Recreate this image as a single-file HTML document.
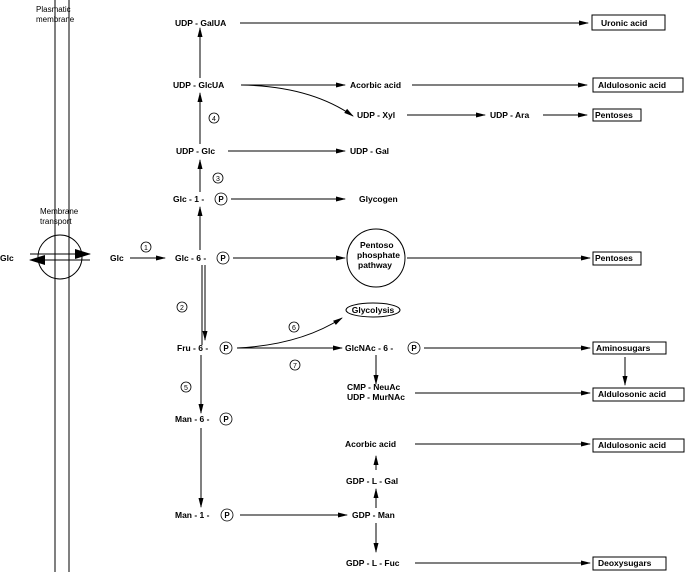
<!DOCTYPE html>
<html><head><style>body{margin:0;background:#fff}svg{display:block}text{font-family:"Liberation Sans",sans-serif;font-size:8.5px;font-weight:bold;fill:#000}.n{font-weight:normal}</style></head><body>
<svg width="685" height="572" viewBox="0 0 685 572">
<defs><marker id="a" markerWidth="10" markerHeight="6" refX="9" refY="3" orient="auto" markerUnits="userSpaceOnUse"><path d="M0,0.5 L10,3 L0,5.5 z" fill="#000"/></marker>
<marker id="b" markerWidth="16" markerHeight="10" refX="15" refY="5" orient="auto" markerUnits="userSpaceOnUse"><path d="M0,0 L16,5 L0,10 z" fill="#000"/></marker></defs>
<g stroke="#000" stroke-width="1" fill="none">
<line x1="55" y1="0" x2="55" y2="572"/><line x1="69" y1="0" x2="69" y2="572"/>
<circle cx="60" cy="257" r="22"/>
<line x1="30" y1="254" x2="90" y2="254" marker-end="url(#b)"/>
<line x1="90" y1="260" x2="30" y2="260" marker-end="url(#b)"/>
<line x1="130" y1="258" x2="165" y2="258" marker-end="url(#a)"/>
<line x1="200" y1="250" x2="200" y2="207" marker-end="url(#a)"/>
<line x1="200" y1="192" x2="200" y2="160" marker-end="url(#a)"/>
<line x1="200" y1="144" x2="200" y2="93" marker-end="url(#a)"/>
<line x1="200" y1="78" x2="200" y2="28" marker-end="url(#a)"/>
<line x1="240" y1="23" x2="588" y2="23" marker-end="url(#a)"/>
<line x1="241" y1="85" x2="345" y2="85" marker-end="url(#a)"/>
<line x1="412" y1="85" x2="587" y2="85" marker-end="url(#a)"/>
<path d="M241,85 Q310,86 353,116" marker-end="url(#a)"/>
<line x1="407" y1="115" x2="485" y2="115" marker-end="url(#a)"/>
<line x1="543" y1="115" x2="587" y2="115" marker-end="url(#a)"/>
<line x1="228" y1="151" x2="345" y2="151" marker-end="url(#a)"/>
<line x1="231" y1="199" x2="345" y2="199" marker-end="url(#a)"/>
<line x1="233" y1="258" x2="345" y2="258" marker-end="url(#a)"/>
<circle cx="376" cy="258" r="29"/>
<line x1="407" y1="258" x2="590" y2="258" marker-end="url(#a)"/>
<line x1="202" y1="265" x2="202" y2="345"/><line x1="205" y1="265" x2="205" y2="340" marker-end="url(#a)"/>
<ellipse cx="373" cy="310" rx="27" ry="7"/>
<path d="M237,348 Q300,345 342,318" marker-end="url(#a)"/>
<line x1="237" y1="348" x2="342" y2="348" marker-end="url(#a)"/>
<line x1="424" y1="348" x2="590" y2="348" marker-end="url(#a)"/>
<line x1="376" y1="355" x2="376" y2="384" marker-end="url(#a)"/>
<line x1="625" y1="357" x2="625" y2="385" marker-end="url(#a)"/>
<line x1="415" y1="393" x2="590" y2="393" marker-end="url(#a)"/>
<line x1="201" y1="355" x2="201" y2="413" marker-end="url(#a)"/>
<line x1="201" y1="428" x2="201" y2="507" marker-end="url(#a)"/>
<line x1="240" y1="515" x2="347" y2="515" marker-end="url(#a)"/>
<line x1="415" y1="444" x2="590" y2="444" marker-end="url(#a)"/>
<line x1="376" y1="470" x2="376" y2="456" marker-end="url(#a)"/>
<line x1="376" y1="508" x2="376" y2="489" marker-end="url(#a)"/>
<line x1="376" y1="523" x2="376" y2="552" marker-end="url(#a)"/>
<line x1="415" y1="563" x2="590" y2="563" marker-end="url(#a)"/>
<rect x="592" y="15" width="73" height="15"/>
<rect x="593" y="78" width="90" height="14"/>
<rect x="593" y="109" width="48" height="12"/>
<rect x="593" y="252" width="48" height="13"/>
<rect x="593" y="342" width="73" height="12"/>
<rect x="593" y="388" width="91" height="13"/>
<rect x="593" y="439" width="91" height="13"/>
<rect x="593" y="557" width="73" height="13"/>
<g stroke-width="0.8"><circle cx="146" cy="247" r="5"/><circle cx="182" cy="307" r="5"/><circle cx="218" cy="178" r="5"/><circle cx="214" cy="118" r="5"/><circle cx="186" cy="387" r="5"/><circle cx="294" cy="327" r="5"/><circle cx="295" cy="365" r="5"/>
<circle cx="221" cy="199" r="6"/><circle cx="223" cy="258" r="6"/><circle cx="226" cy="348" r="6"/><circle cx="226" cy="419" r="6"/><circle cx="227" cy="515" r="6"/><circle cx="414" cy="348" r="6"/></g>
</g>
<g text-anchor="middle" font-size="7">
<text x="146" y="250" class="n" style="font-size:7px">1</text><text x="182" y="310" class="n" style="font-size:7px">2</text><text x="218" y="181" class="n" style="font-size:7px">3</text><text x="214" y="121" class="n" style="font-size:7px">4</text><text x="186" y="390" class="n" style="font-size:7px">5</text><text x="294" y="330" class="n" style="font-size:7px">6</text><text x="295" y="368" class="n" style="font-size:7px">7</text>
<text x="221" y="202" style="font-size:8px">P</text><text x="223" y="261" style="font-size:8px">P</text><text x="226" y="351" style="font-size:8px">P</text><text x="226" y="422" style="font-size:8px">P</text><text x="227" y="518" style="font-size:8px">P</text><text x="414" y="351" style="font-size:8px">P</text>
</g>
<text x="36" y="12" class="n" style="font-size:8px">Plasmatic</text><text x="36" y="22" class="n" style="font-size:8px">membrane</text>
<text x="40" y="214" class="n" style="font-size:8px">Membrane</text><text x="40" y="224" class="n" style="font-size:8px">transport</text>
<text x="0" y="261">Glc</text><text x="110" y="261">Glc</text>
<text x="175" y="26">UDP - GalUA</text><text x="173" y="88">UDP - GlcUA</text><text x="176" y="154">UDP - Glc</text>
<text x="173" y="202">Glc - 1 -</text><text x="175" y="261">Glc - 6 -</text>
<text x="177" y="351">Fru - 6 -</text><text x="175" y="422">Man - 6 -</text><text x="175" y="518">Man - 1 -</text>
<text x="350" y="88">Acorbic acid</text><text x="357" y="118">UDP - Xyl</text><text x="490" y="118">UDP - Ara</text>
<text x="350" y="154">UDP - Gal</text><text x="359" y="202">Glycogen</text>
<text x="360" y="248">Pentoso</text><text x="357" y="258">phosphate</text><text x="358" y="268">pathway</text>
<text x="373" y="313" text-anchor="middle">Glycolysis</text>
<text x="345" y="351">GlcNAc - 6 -</text>
<text x="347" y="390">CMP - NeuAc</text><text x="347" y="400">UDP - MurNAc</text>
<text x="345" y="447">Acorbic acid</text><text x="346" y="484">GDP - L - Gal</text><text x="352" y="518">GDP - Man</text><text x="346" y="566">GDP - L - Fuc</text>
<text x="601" y="26">Uronic acid</text><text x="598" y="88">Aldulosonic acid</text><text x="595" y="118">Pentoses</text><text x="595" y="261">Pentoses</text>
<text x="596" y="351">Aminosugars</text><text x="598" y="397">Aldulosonic acid</text><text x="598" y="448">Aldulosonic acid</text><text x="598" y="566">Deoxysugars</text>
</svg></body></html>
